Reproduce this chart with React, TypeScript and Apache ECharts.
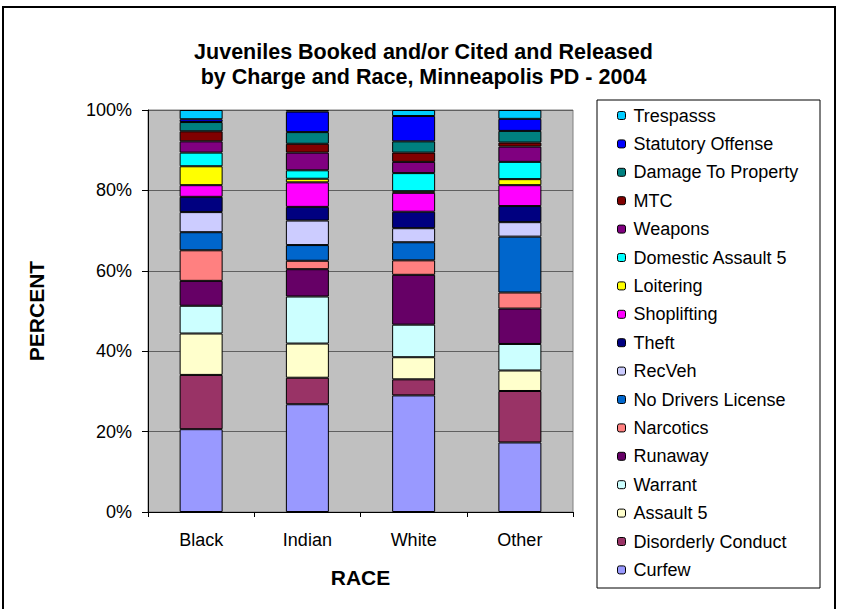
import React, { useEffect, useRef } from 'react';
import * as echarts from 'echarts';

const races = ['Black', 'Indian', 'White', 'Other'];
const chargeNames = [
  'Curfew', 'Disorderly Conduct', 'Assault 5', 'Warrant', 'Runaway', 'Narcotics',
  'No Drivers License', 'RecVeh', 'Theft', 'Shoplifting', 'Loitering',
  'Domestic Assault 5', 'Weapons', 'MTC', 'Damage To Property', 'Statutory Offense', 'Trespasss',
];
const curfew = [20.6, 26.8, 29.0, 17.3];
const disorderlyConduct = [13.5, 6.6, 4.0, 12.8];
const assault5 = [10.3, 8.5, 5.5, 5.1];
const warrant = [6.9, 11.7, 8.1, 6.6];
const runaway = [6.2, 6.8, 12.4, 8.8];
const narcotics = [7.6, 2.1, 3.6, 4.0];
const noDriversLicense = [4.5, 3.9, 4.5, 13.9];
const recVeh = [5.0, 6.1, 3.5, 3.6];
const theft = [3.8, 3.4, 4.1, 4.0];
const shoplifting = [2.9, 6.1, 4.7, 5.2];
const loitering = [4.7, 0.9, 0.4, 1.5];
const domesticAssault5 = [3.4, 2.1, 4.5, 4.3];
const weapons = [2.8, 4.4, 2.8, 3.8];
const mtc = [2.5, 2.2, 2.3, 1.0];
const damageToProperty = [2.3, 2.9, 2.8, 2.9];
const statutoryOffense = [0.7, 5.1, 6.3, 3.0];
const trespasss = [2.3, 0.4, 1.5, 2.2];
const yTicks = [0, 20, 40, 60, 80, 100];

const seriesValues = [
  curfew, disorderlyConduct, assault5, warrant, runaway, narcotics, noDriversLicense,
  recVeh, theft, shoplifting, loitering, domesticAssault5, weapons, mtc,
  damageToProperty, statutoryOffense, trespasss,
];
const colors = [
  '#9999FF', '#993366', '#FFFFCC', '#CCFFFF', '#660066', '#FF8080', '#0066CC',
  '#CCCCFF', '#000080', '#FF00FF', '#FFFF00', '#00FFFF', '#800080', '#800000',
  '#008080', '#0000FF', '#00CCFF',
];

const FONT = 'Arial, "Liberation Sans", sans-serif';

export default function App() {
  const ref = useRef<HTMLDivElement>(null);
  useEffect(() => {
    if (!ref.current) return;
    const chart = echarts.init(ref.current, null, { renderer: 'svg' });
    chart.setOption({
      animation: false,
      backgroundColor: '#fff',
      textStyle: { fontFamily: FONT },
      graphic: [
        {
          type: 'rect', silent: true, z: 0,
          shape: { x: 3, y: 7, width: 832, height: 700 },
          style: { fill: 'none', stroke: '#000', lineWidth: 2 },
        },
        {
          type: 'rect', silent: true, z: 0,
          shape: { x: 597, y: 100, width: 223, height: 488 },
          style: { fill: '#fff', stroke: '#000', lineWidth: 1 },
        },
      ],
      title: {
        text: 'Juveniles Booked and/or Cited and Released\nby Charge and Race, Minneapolis PD - 2004',
        left: 'center',
        top: 39,
        padding: 0,
        textStyle: { fontFamily: FONT, fontSize: 21.5, fontWeight: 'bold', color: '#000', lineHeight: 25.5 },
      },
      legend: {
        orient: 'vertical',
        left: 617,
        top: 106.5,
        padding: 0,
        itemWidth: 8,
        itemHeight: 8,
        itemGap: 10.4,
        data: chargeNames.slice().reverse(),
        textStyle: { fontFamily: FONT, fontSize: 18, color: '#000', lineHeight: 18, padding: [0, 0, 0, 3] },
        itemStyle: { borderColor: '#000', borderWidth: 1 },
        selectedMode: false,
      },
      grid: {
        left: 148, top: 110, width: 425, height: 402,
        show: true, backgroundColor: '#C0C0C0', borderColor: '#808080', borderWidth: 1,
        containLabel: false,
      },
      xAxis: {
        type: 'category',
        data: races,
        name: 'RACE',
        nameLocation: 'middle',
        nameGap: 55,
        nameTextStyle: { fontFamily: FONT, fontSize: 21, fontWeight: 'bold', color: '#000' },
        axisLine: { lineStyle: { color: '#000', width: 1 } },
        axisTick: { show: true, alignWithLabel: false, length: 5, lineStyle: { color: '#000' } },
        axisLabel: { fontFamily: FONT, fontSize: 18, color: '#000', margin: 19 },
      },
      yAxis: {
        type: 'value',
        min: yTicks[0],
        max: yTicks[yTicks.length - 1],
        interval: 20,
        name: 'PERCENT',
        nameLocation: 'middle',
        nameRotate: 90,
        nameGap: 101,
        nameTextStyle: { fontFamily: FONT, fontSize: 21, fontWeight: 'bold', color: '#000' },
        axisLine: { show: true, lineStyle: { color: '#000', width: 1 } },
        axisTick: { show: true, length: 6, lineStyle: { color: '#000' } },
        axisLabel: { fontFamily: FONT, fontSize: 18, color: '#000', margin: 16, formatter: '{value}%' },
        splitLine: { show: true, lineStyle: { color: '#606060', width: 1 } },
      },
      series: chargeNames.map((name, i) => ({
        name,
        type: 'bar',
        stack: 'total',
        barWidth: 43,
        data: seriesValues[i],
        itemStyle: { color: colors[i], borderColor: '#000', borderWidth: 1 },
        emphasis: { disabled: true },
      })),
    });
    return () => chart.dispose();
  }, []);
  return (
    <div
      ref={ref}
      style={{ position: 'absolute', left: 0, top: 0, width: 847, height: 609 }}
    />
  );
}
